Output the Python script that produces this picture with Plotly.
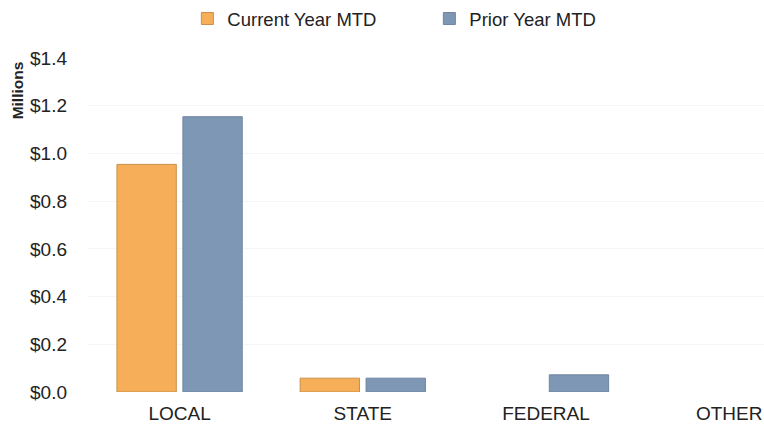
import plotly.graph_objects as go

categories = ["LOCAL", "STATE", "FEDERAL", "OTHER"]
current_year_mtd = [0.954, 0.058, 0.0, 0.0]
prior_year_mtd = [1.154, 0.058, 0.072, 0.0]
y_tick_vals = [0.0, 0.2, 0.4, 0.6, 0.8, 1.0, 1.2, 1.4]
y_tick_text = ["$0.0", "$0.2", "$0.4", "$0.6", "$0.8", "$1.0", "$1.2", "$1.4"]

FONT = "Liberation Sans, Arial, sans-serif"
TEXT = "#222222"


def outline_widths(values):
    # no outline on empty bars, so zero values leave no stray line
    return [1 if v > 0 else 0 for v in values]


fig = go.Figure()
fig.add_trace(go.Bar(
    name="Current Year MTD", x=categories, y=current_year_mtd,
    marker=dict(color="#F6AE58",
                line=dict(color="#C9904A", width=outline_widths(current_year_mtd))),
))
fig.add_trace(go.Bar(
    name="Prior Year MTD", x=categories, y=prior_year_mtd,
    marker=dict(color="#7E97B4",
                line=dict(color="#6F86A1", width=outline_widths(prior_year_mtd))),
))

fig.update_layout(
    width=764, height=425,
    margin=dict(l=88, r=0, t=56, b=33),
    paper_bgcolor="white", plot_bgcolor="white",
    barmode="group", bargap=0.28, bargroupgap=0.1,
    font=dict(family=FONT, size=19, color=TEXT),
    legend=dict(
        orientation="h", x=0.147, xanchor="left", y=1.175, yanchor="top",
        yref="paper", font=dict(size=18.5, family=FONT, color=TEXT),
        itemwidth=30, traceorder="normal", entrywidth=197,
    ),
    showlegend=True,
)

fig.update_xaxes(
    range=[-0.5, 3.19], showgrid=False, showline=False, ticks="",
    ticklabelstandoff=8,
    tickfont=dict(size=19, family=FONT, color=TEXT),
)
fig.update_yaxes(
    range=[0, 1.4], tickvals=y_tick_vals, ticktext=y_tick_text,
    showgrid=True, gridcolor="#f5f5f5", gridwidth=1, zeroline=False,
    showline=False, ticks="", ticklabelstandoff=20,
    tickfont=dict(size=19, family=FONT, color=TEXT),
)

fig.add_annotation(
    text="<b>Millions</b>", xref="paper", yref="paper",
    x=-0.104, y=0.995, xanchor="center", yanchor="top",
    textangle=-90, showarrow=False,
    font=dict(size=15.5, family=FONT, color=TEXT),
)

fig.write_html("out.html")
